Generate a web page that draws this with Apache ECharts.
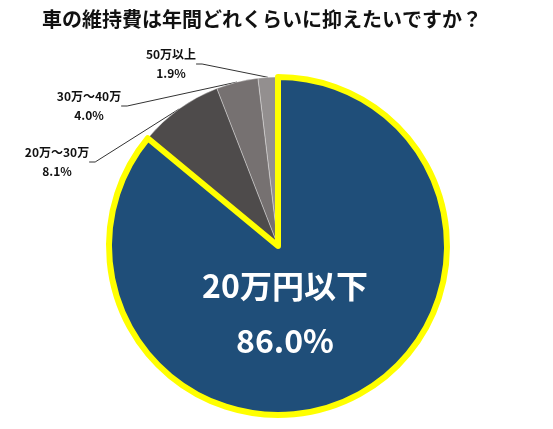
<!DOCTYPE html>
<html>
<head>
<meta charset="utf-8">
<script src="https://cdn.jsdelivr.net/npm/echarts@6/dist/echarts.min.js"></script>
<style>
  html, body { margin: 0; padding: 0; background: #fff; }
  #main { width: 553px; height: 429px; }
</style>
</head>
<body>
<div id="main"></div>
<script>
// drawn counter-clockwise from the top so the big slice comes last (its yellow border stays on top)
const categories = ['50万以上', '30万～40万', '20万～30万', '20万円以下'];
const shares = [1.9, 4.0, 8.1, 86.0];
const colors = ['#938f8f', '#767171', '#4e4b4b', '#1f4e79'];

// where the callout labels sit (Excel-style manual placement)
const labelSpots = [
  { x: 171, y: 64 },
  { x: 89, y: 106 },
  { x: 57, y: 162 },
  { x: 285, y: 313 }
];

const chart = echarts.init(document.getElementById('main'));
const FONT = '"Noto Sans CJK JP", "Noto Sans", sans-serif';

const pieData = categories.map((name, i) => {
  const big = i === categories.length - 1;
  return {
    name,
    value: shares[i],
    itemStyle: big
      ? { color: colors[i], borderColor: '#ffff00', borderWidth: 6 }
      : { color: colors[i], borderColor: 'rgba(255,255,255,0.35)', borderWidth: 1 },
    label: big
      ? {
          position: 'inside',
          formatter: (p) => `{a|${p.name}}\n{b|${p.value.toFixed(1)}%}`,
          rich: {
            a: { fontSize: 32, fontWeight: 'bold', color: '#fff', fontFamily: FONT, lineHeight: 55 },
            b: { fontSize: 32, fontWeight: 'bold', color: '#fff', fontFamily: FONT, lineHeight: 55 }
          }
        }
      : {},
    labelLine: big ? { show: false } : {}
  };
});

chart.setOption({
  animation: false,
  title: {
    text: '車の維持費は年間どれくらいに抑えたいですか？',
    left: 37,
    top: 4,
    textStyle: { fontSize: 20, fontWeight: 'bold', color: '#111', fontFamily: FONT }
  },
  series: [
    {
      type: 'pie',
      center: [278, 246],
      radius: 169,
      startAngle: 90,
      clockwise: false,
      avoidLabelOverlap: false,
      data: pieData,
      label: {
        show: true,
        position: 'outside',
        formatter: (p) => `${p.name}\n${p.value.toFixed(1)}%`,
        fontSize: 12,
        fontWeight: 'bold',
        color: '#111',
        fontFamily: FONT,
        lineHeight: 19,
        align: 'center'
      },
      labelLine: {
        show: true,
        length: 10,
        length2: 6,
        lineStyle: { color: '#333', width: 1 }
      },
      labelLayout: (params) => {
        const spot = labelSpots[params.dataIndex];
        return { x: spot.x, y: spot.y, align: 'center', verticalAlign: 'middle' };
      }
    }
  ]
});
</script>
</body>
</html>
